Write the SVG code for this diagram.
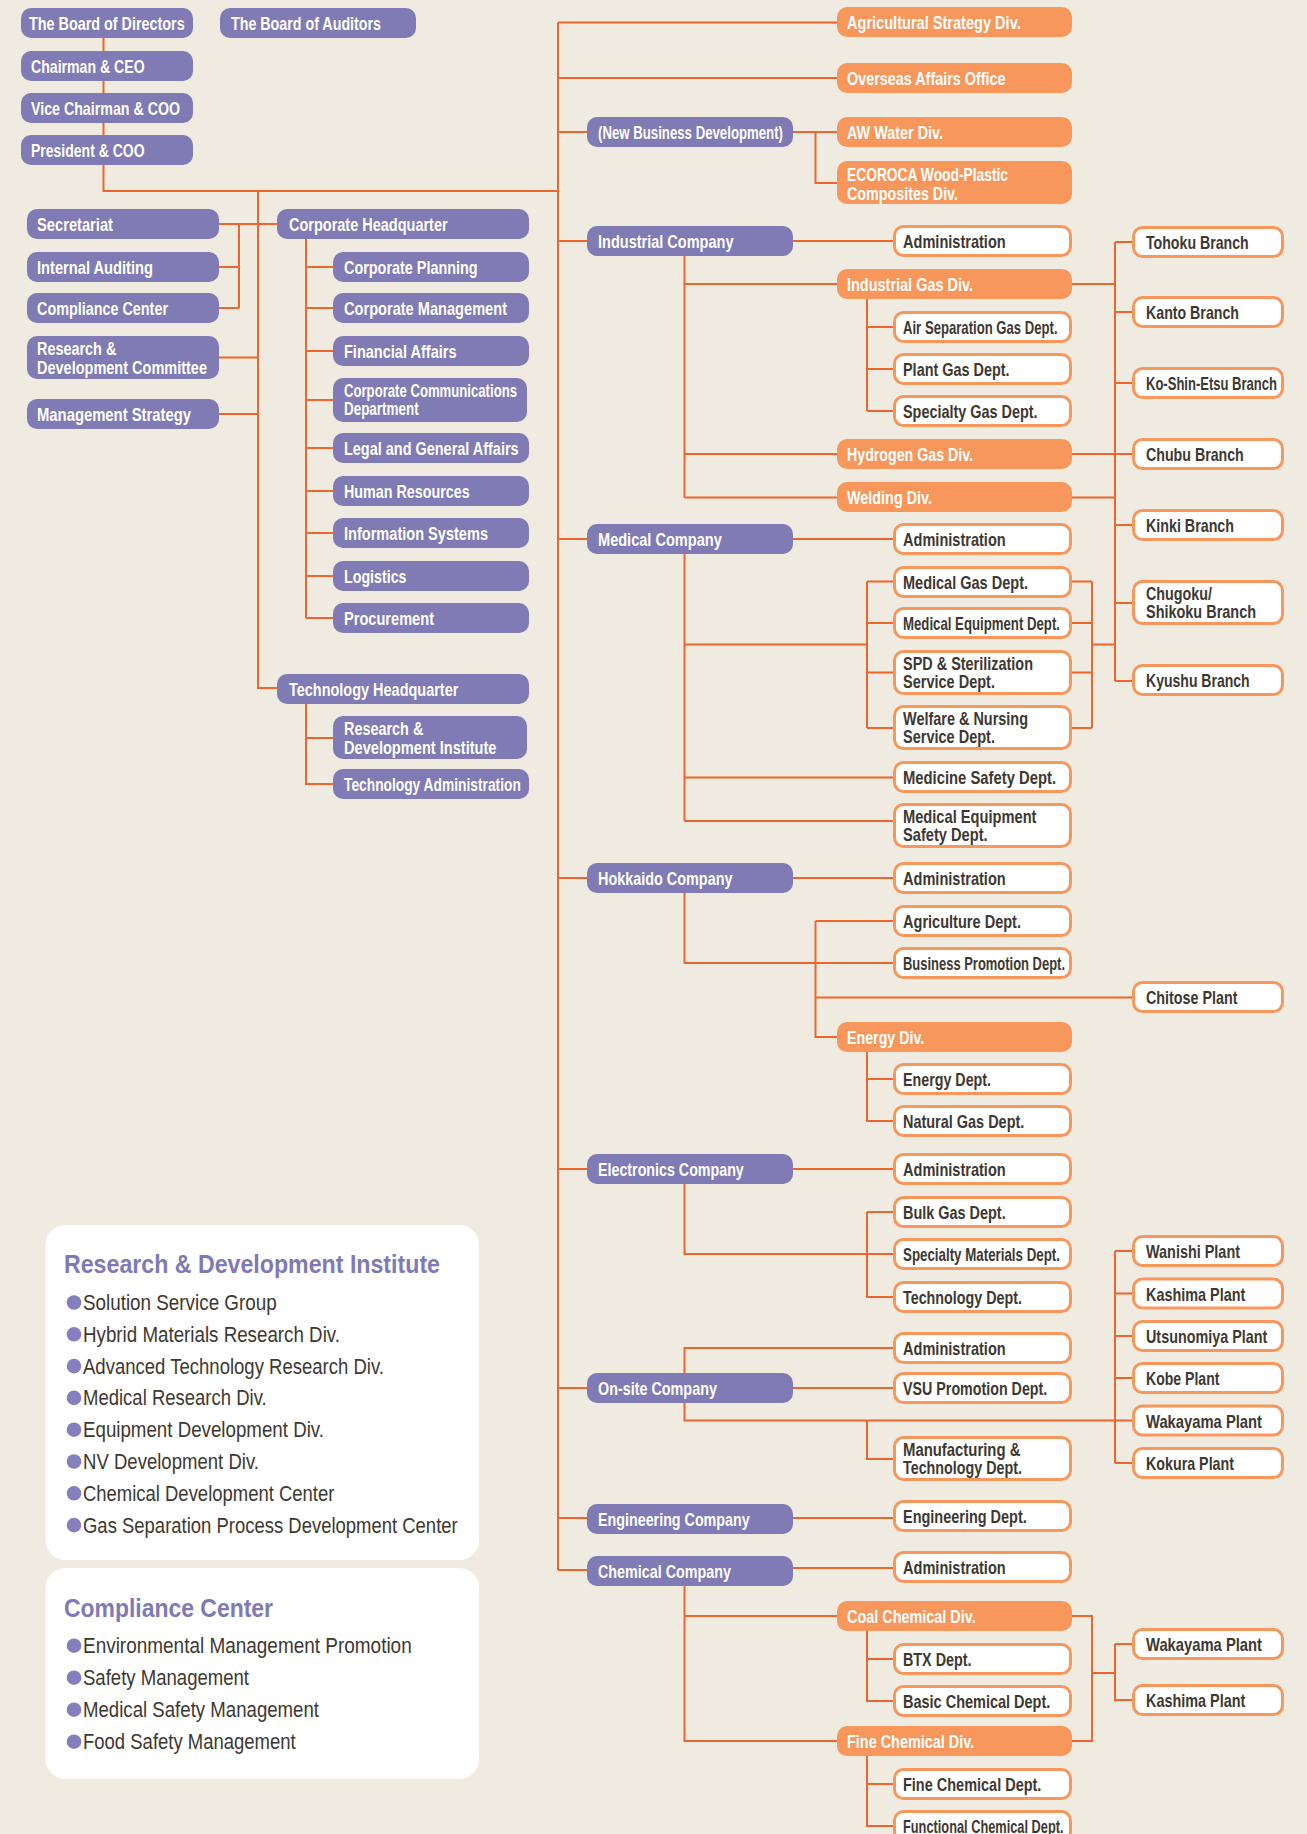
<svg xmlns="http://www.w3.org/2000/svg" width="1307" height="1834" viewBox="0 0 1307 1834">
<style>
  .p { fill: #807bb5; }
  .o { fill: #f7975c; }
  .w { fill: #ffffff; stroke: #f7975c; stroke-width: 3; }
  .panel { fill: #ffffff; }
  text { font-family: "Liberation Sans", Arial, sans-serif; }
  /* box labels: bold face, squeezed to a condensed width through textLength */
  .tl, .td { font-size: 19px; font-weight: bold; }
  .tl { fill: #ffffff; }
  .td { fill: #3d3832; }
  .ht { font-size: 26px; font-weight: bold; fill: #7f7ab5; }
  .it { font-size: 22.5px; fill: #3d3832; }
  .dot { fill: #8580bd; }
  .ln { fill: none; stroke: #f0652d; stroke-width: 2; }
</style>
<rect x="0" y="0" width="1307" height="1834" fill="#efebe1"/>

<g id="connectors" class="ln">
  <path d="M103.5 38 V191 H558 M258 191 V688 H277 M219 224 H277 M239 224 V308 M219 267 H239 M219 308 H239 M219 357.5 H258 M219 414 H258"/>
  <path d="M306 239 V618 M306 267 H333 M306 308 H333 M306 351 H333 M306 400 H333 M306 448 H333 M306 491 H333 M306 533 H333 M306 576 H333 M306 618 H333 M306 704 V784 H333 M306 738 H333"/>
  <path d="M558 22.5 V1570 M558 22.5 H837 M558 78 H837 M558 132 H587 M793 132 H837 M815.5 132 V183 H837"/>
  <path d="M558 241 H587 M793 241 H893 M684.5 256 V497.5 M684.5 284 H837 M684.5 454 H837 M684.5 497.5 H837 M867 299 V411 M867 327 H893 M867 369 H893 M867 411 H893"/>
  <path d="M1072 284 H1115 M1072 454 H1132 M1072 497.5 H1115 M1115 242 V681 M1115 242 H1132 M1115 312 H1132 M1115 383 H1132 M1115 525 H1132 M1115 603 H1132 M1115 681 H1132"/>
  <path d="M558 539 H587 M793 539 H893 M684.5 554 V821 M684.5 644.5 H867 M684.5 777.5 H893 M684.5 821 H893 M867 581.5 V728 M867 581.5 H893 M867 623 H893 M867 672.5 H893 M867 728 H893 M1072 581.5 H1092 M1072 623 H1092 M1072 672.5 H1092 M1072 728 H1092 M1092 581.5 V728 M1092 644.5 H1115"/>
  <path d="M558 878 H587 M793 878 H893 M684.5 893 V963 H893 M815.5 921 V1037 H837 M815.5 921 H893 M815.5 997.5 H1132 M867 1052 V1121 H893 M867 1079 H893"/>
  <path d="M558 1169 H587 M793 1169 H893 M684.5 1184 V1254 H893 M867 1212 V1297 H893 M867 1212 H893 M1115 1251 V1463 M1115 1251 H1132 M1115 1293.5 H1132 M1115 1336 H1132 M1115 1378 H1132 M1115 1463 H1132"/>
  <path d="M558 1388 H587 M793 1388 H893 M684.5 1373 V1348 H893 M684.5 1403 V1420.5 H1132 M867 1420.5 V1459 H893"/>
  <path d="M558 1518 H587 M793 1518 H893 M558 1570 H587 M793 1568 H893 M684.5 1586 V1741 H837 M684.5 1616 H837 M867 1631 V1701 H893 M867 1659 H893 M867 1756 V1826 H893 M867 1784 H893 M1072 1616 H1092 V1741 H1072 M1092 1673 H1115 M1115 1644 V1700 H1132 M1115 1644 H1132"/>
</g>

<!-- top management -->
<g id="board-directors"><rect class="p" x="21" y="8" width="172" height="30" rx="10"/><text class="tl" x="29" y="30" textLength="155.7" lengthAdjust="spacingAndGlyphs">The Board of Directors</text></g>
<g id="board-auditors"><rect class="p" x="220" y="8" width="196" height="30" rx="10"/><text class="tl" x="231" y="30" textLength="150" lengthAdjust="spacingAndGlyphs">The Board of Auditors</text></g>
<g id="chairman"><rect class="p" x="21" y="51" width="172" height="30" rx="10"/><text class="tl" x="31" y="73" textLength="113.6" lengthAdjust="spacingAndGlyphs">Chairman &amp; CEO</text></g>
<g id="vice-chairman"><rect class="p" x="21" y="93" width="172" height="30" rx="10"/><text class="tl" x="31" y="115" textLength="149" lengthAdjust="spacingAndGlyphs">Vice Chairman &amp; COO</text></g>
<g id="president"><rect class="p" x="21" y="135" width="172" height="30" rx="10"/><text class="tl" x="31" y="157" textLength="113.6" lengthAdjust="spacingAndGlyphs">President &amp; COO</text></g>

<!-- staff offices -->
<g id="secretariat"><rect class="p" x="27" y="209" width="192" height="30" rx="10"/><text class="tl" x="37" y="231" textLength="76" lengthAdjust="spacingAndGlyphs">Secretariat</text></g>
<g id="internal-auditing"><rect class="p" x="27" y="252" width="192" height="30" rx="10"/><text class="tl" x="37" y="274" textLength="116" lengthAdjust="spacingAndGlyphs">Internal Auditing</text></g>
<g id="compliance-center"><rect class="p" x="27" y="293" width="192" height="30" rx="10"/><text class="tl" x="37" y="315" textLength="131" lengthAdjust="spacingAndGlyphs">Compliance Center</text></g>
<g id="rd-committee"><rect class="p" x="27" y="336" width="192" height="43" rx="10"/><text class="tl" x="37" y="355" textLength="79.3" lengthAdjust="spacingAndGlyphs">Research &amp;</text><text class="tl" x="37" y="374" textLength="170" lengthAdjust="spacingAndGlyphs">Development Committee</text></g>
<g id="management-strategy"><rect class="p" x="27" y="399" width="192" height="30" rx="10"/><text class="tl" x="37" y="421" textLength="154" lengthAdjust="spacingAndGlyphs">Management Strategy</text></g>

<!-- corporate headquarter -->
<g id="corporate-hq"><rect class="p" x="277" y="209" width="252" height="30" rx="10"/><text class="tl" x="289" y="231" textLength="158.6" lengthAdjust="spacingAndGlyphs">Corporate Headquarter</text></g>
<g id="corporate-planning"><rect class="p" x="333" y="252" width="196" height="30" rx="10"/><text class="tl" x="344" y="274" textLength="133.6" lengthAdjust="spacingAndGlyphs">Corporate Planning</text></g>
<g id="corporate-management"><rect class="p" x="333" y="293" width="196" height="30" rx="10"/><text class="tl" x="344" y="315" textLength="163" lengthAdjust="spacingAndGlyphs">Corporate Management</text></g>
<g id="financial-affairs"><rect class="p" x="333" y="336" width="196" height="30" rx="10"/><text class="tl" x="344" y="358" textLength="112.5" lengthAdjust="spacingAndGlyphs">Financial Affairs</text></g>
<g id="corporate-communications"><rect class="p" x="333" y="378" width="194" height="44" rx="10"/><text class="tl" x="344" y="396.5" textLength="173" lengthAdjust="spacingAndGlyphs">Corporate Communications</text><text class="tl" x="344" y="415" textLength="74.6" lengthAdjust="spacingAndGlyphs">Department</text></g>
<g id="legal-general"><rect class="p" x="333" y="433" width="196" height="30" rx="10"/><text class="tl" x="344" y="455" textLength="174.6" lengthAdjust="spacingAndGlyphs">Legal and General Affairs</text></g>
<g id="human-resources"><rect class="p" x="333" y="476" width="196" height="30" rx="10"/><text class="tl" x="344" y="498" textLength="125.7" lengthAdjust="spacingAndGlyphs">Human Resources</text></g>
<g id="information-systems"><rect class="p" x="333" y="518" width="196" height="30" rx="10"/><text class="tl" x="344" y="540" textLength="144" lengthAdjust="spacingAndGlyphs">Information Systems</text></g>
<g id="logistics"><rect class="p" x="333" y="561" width="196" height="30" rx="10"/><text class="tl" x="344" y="583" textLength="62.5" lengthAdjust="spacingAndGlyphs">Logistics</text></g>
<g id="procurement"><rect class="p" x="333" y="603" width="196" height="30" rx="10"/><text class="tl" x="344" y="625" textLength="90" lengthAdjust="spacingAndGlyphs">Procurement</text></g>

<!-- technology headquarter -->
<g id="technology-hq"><rect class="p" x="277" y="674" width="252" height="30" rx="10"/><text class="tl" x="289" y="696" textLength="169.3" lengthAdjust="spacingAndGlyphs">Technology Headquarter</text></g>
<g id="rd-institute"><rect class="p" x="333" y="716" width="194" height="43" rx="10"/><text class="tl" x="344" y="735" textLength="79.3" lengthAdjust="spacingAndGlyphs">Research &amp;</text><text class="tl" x="344" y="754" textLength="152.5" lengthAdjust="spacingAndGlyphs">Development Institute</text></g>
<g id="technology-admin"><rect class="p" x="333" y="769" width="196" height="30" rx="10"/><text class="tl" x="344" y="791" textLength="176.8" lengthAdjust="spacingAndGlyphs">Technology Administration</text></g>

<!-- divisions reporting directly -->
<g id="agri-strategy"><rect class="o" x="837" y="7" width="235" height="30" rx="10"/><text class="tl" x="847" y="29" textLength="173.7" lengthAdjust="spacingAndGlyphs">Agricultural Strategy Div.</text></g>
<g id="overseas-affairs"><rect class="o" x="837" y="63" width="235" height="30" rx="10"/><text class="tl" x="847" y="85" textLength="158.5" lengthAdjust="spacingAndGlyphs">Overseas Affairs Office</text></g>
<g id="new-business"><rect class="p" x="587" y="117" width="206" height="30" rx="10"/><text class="tl" x="598" y="139" textLength="185" lengthAdjust="spacingAndGlyphs">(New Business Development)</text></g>
<g id="aw-water"><rect class="o" x="837" y="117" width="235" height="30" rx="10"/><text class="tl" x="847" y="139" textLength="96" lengthAdjust="spacingAndGlyphs">AW Water Div.</text></g>
<g id="ecoroca"><rect class="o" x="837" y="161" width="235" height="43" rx="10"/><text class="tl" x="847" y="181" textLength="161" lengthAdjust="spacingAndGlyphs">ECOROCA Wood-Plastic</text><text class="tl" x="847" y="199.5" textLength="111" lengthAdjust="spacingAndGlyphs">Composites Div.</text></g>

<!-- industrial company -->
<g id="industrial-co"><rect class="p" x="587" y="226" width="206" height="30" rx="10"/><text class="tl" x="598" y="248" textLength="135.5" lengthAdjust="spacingAndGlyphs">Industrial Company</text></g>
<g id="ind-admin"><rect class="w" x="894.5" y="226.5" width="176" height="29" rx="9"/><text class="td" x="903" y="248" textLength="102.7" lengthAdjust="spacingAndGlyphs">Administration</text></g>
<g id="industrial-gas"><rect class="o" x="837" y="269" width="235" height="30" rx="10"/><text class="tl" x="847" y="291" textLength="126" lengthAdjust="spacingAndGlyphs">Industrial Gas Div.</text></g>
<g id="air-separation"><rect class="w" x="894.5" y="312.5" width="176" height="29" rx="9"/><text class="td" x="903" y="334" textLength="154.6" lengthAdjust="spacingAndGlyphs">Air Separation Gas Dept.</text></g>
<g id="plant-gas"><rect class="w" x="894.5" y="354.5" width="176" height="29" rx="9"/><text class="td" x="903" y="376" textLength="106.6" lengthAdjust="spacingAndGlyphs">Plant Gas Dept.</text></g>
<g id="specialty-gas"><rect class="w" x="894.5" y="396.5" width="176" height="29" rx="9"/><text class="td" x="903" y="418" textLength="134.5" lengthAdjust="spacingAndGlyphs">Specialty Gas Dept.</text></g>
<g id="hydrogen-gas"><rect class="o" x="837" y="439" width="235" height="30" rx="10"/><text class="tl" x="847" y="461" textLength="126" lengthAdjust="spacingAndGlyphs">Hydrogen Gas Div.</text></g>
<g id="welding"><rect class="o" x="837" y="482" width="235" height="30" rx="10"/><text class="tl" x="847" y="504" textLength="85" lengthAdjust="spacingAndGlyphs">Welding Div.</text></g>

<!-- branches -->
<g id="tohoku"><rect class="w" x="1133.5" y="227.5" width="149" height="29" rx="9"/><text class="td" x="1146" y="249" textLength="102.7" lengthAdjust="spacingAndGlyphs">Tohoku Branch</text></g>
<g id="kanto"><rect class="w" x="1133.5" y="297.5" width="149" height="29" rx="9"/><text class="td" x="1146" y="319" textLength="93" lengthAdjust="spacingAndGlyphs">Kanto Branch</text></g>
<g id="koshinetsu"><rect class="w" x="1133.5" y="368.5" width="149" height="29" rx="9"/><text class="td" x="1146" y="390" textLength="131" lengthAdjust="spacingAndGlyphs">Ko-Shin-Etsu Branch</text></g>
<g id="chubu"><rect class="w" x="1133.5" y="439.5" width="149" height="29" rx="9"/><text class="td" x="1146" y="461" textLength="97.8" lengthAdjust="spacingAndGlyphs">Chubu Branch</text></g>
<g id="kinki"><rect class="w" x="1133.5" y="510.5" width="149" height="29" rx="9"/><text class="td" x="1146" y="532" textLength="88" lengthAdjust="spacingAndGlyphs">Kinki Branch</text></g>
<g id="chugoku-shikoku"><rect class="w" x="1133.5" y="581.5" width="149" height="42" rx="9"/><text class="td" x="1146" y="600" textLength="66" lengthAdjust="spacingAndGlyphs">Chugoku/</text><text class="td" x="1146" y="618" textLength="110" lengthAdjust="spacingAndGlyphs">Shikoku Branch</text></g>
<g id="kyushu"><rect class="w" x="1133.5" y="665.5" width="149" height="29" rx="9"/><text class="td" x="1146" y="687" textLength="103.7" lengthAdjust="spacingAndGlyphs">Kyushu Branch</text></g>

<!-- medical company -->
<g id="medical-co"><rect class="p" x="587" y="524" width="206" height="30" rx="10"/><text class="tl" x="598" y="546" textLength="123.8" lengthAdjust="spacingAndGlyphs">Medical Company</text></g>
<g id="med-admin"><rect class="w" x="894.5" y="524.5" width="176" height="29" rx="9"/><text class="td" x="903" y="546" textLength="102.7" lengthAdjust="spacingAndGlyphs">Administration</text></g>
<g id="medical-gas"><rect class="w" x="894.5" y="567.5" width="176" height="29" rx="9"/><text class="td" x="903" y="589" textLength="125" lengthAdjust="spacingAndGlyphs">Medical Gas Dept.</text></g>
<g id="medical-equipment"><rect class="w" x="894.5" y="608.5" width="176" height="29" rx="9"/><text class="td" x="903" y="630" textLength="157" lengthAdjust="spacingAndGlyphs">Medical Equipment Dept.</text></g>
<g id="spd-sterilization"><rect class="w" x="894.5" y="651.5" width="176" height="42" rx="9"/><text class="td" x="903" y="669.5" textLength="130" lengthAdjust="spacingAndGlyphs">SPD &amp; Sterilization</text><text class="td" x="903" y="687.5" textLength="92" lengthAdjust="spacingAndGlyphs">Service Dept.</text></g>
<g id="welfare-nursing"><rect class="w" x="894.5" y="706.5" width="176" height="42" rx="9"/><text class="td" x="903" y="724.5" textLength="125" lengthAdjust="spacingAndGlyphs">Welfare &amp; Nursing</text><text class="td" x="903" y="742.5" textLength="92" lengthAdjust="spacingAndGlyphs">Service Dept.</text></g>
<g id="medicine-safety"><rect class="w" x="894.5" y="762.5" width="176" height="29" rx="9"/><text class="td" x="903" y="784" textLength="153" lengthAdjust="spacingAndGlyphs">Medicine Safety Dept.</text></g>
<g id="med-equipment-safety"><rect class="w" x="894.5" y="804.5" width="176" height="42" rx="9"/><text class="td" x="903" y="822.5" textLength="133.5" lengthAdjust="spacingAndGlyphs">Medical Equipment</text><text class="td" x="903" y="840.5" textLength="84.6" lengthAdjust="spacingAndGlyphs">Safety Dept.</text></g>

<!-- hokkaido company -->
<g id="hokkaido-co"><rect class="p" x="587" y="863" width="206" height="30" rx="10"/><text class="tl" x="598" y="885" textLength="134.5" lengthAdjust="spacingAndGlyphs">Hokkaido Company</text></g>
<g id="hok-admin"><rect class="w" x="894.5" y="863.5" width="176" height="29" rx="9"/><text class="td" x="903" y="885" textLength="102.7" lengthAdjust="spacingAndGlyphs">Administration</text></g>
<g id="agriculture"><rect class="w" x="894.5" y="906.5" width="176" height="29" rx="9"/><text class="td" x="903" y="928" textLength="118" lengthAdjust="spacingAndGlyphs">Agriculture Dept.</text></g>
<g id="business-promotion"><rect class="w" x="894.5" y="948.5" width="176" height="29" rx="9"/><text class="td" x="903" y="970" textLength="162" lengthAdjust="spacingAndGlyphs">Business Promotion Dept.</text></g>
<g id="chitose"><rect class="w" x="1133.5" y="982.5" width="149" height="29" rx="9"/><text class="td" x="1146" y="1004" textLength="91.5" lengthAdjust="spacingAndGlyphs">Chitose Plant</text></g>
<g id="energy-div"><rect class="o" x="837" y="1022" width="235" height="30" rx="10"/><text class="tl" x="847" y="1044" textLength="77.3" lengthAdjust="spacingAndGlyphs">Energy Div.</text></g>
<g id="energy-dept"><rect class="w" x="894.5" y="1064.5" width="176" height="29" rx="9"/><text class="td" x="903" y="1086" textLength="88" lengthAdjust="spacingAndGlyphs">Energy Dept.</text></g>
<g id="natural-gas"><rect class="w" x="894.5" y="1106.5" width="176" height="29" rx="9"/><text class="td" x="903" y="1128" textLength="121.3" lengthAdjust="spacingAndGlyphs">Natural Gas Dept.</text></g>

<!-- electronics company -->
<g id="electronics-co"><rect class="p" x="587" y="1154" width="206" height="30" rx="10"/><text class="tl" x="598" y="1176" textLength="145.8" lengthAdjust="spacingAndGlyphs">Electronics Company</text></g>
<g id="elec-admin"><rect class="w" x="894.5" y="1154.5" width="176" height="29" rx="9"/><text class="td" x="903" y="1176" textLength="102.7" lengthAdjust="spacingAndGlyphs">Administration</text></g>
<g id="bulk-gas"><rect class="w" x="894.5" y="1197.5" width="176" height="29" rx="9"/><text class="td" x="903" y="1219" textLength="102.7" lengthAdjust="spacingAndGlyphs">Bulk Gas Dept.</text></g>
<g id="specialty-materials"><rect class="w" x="894.5" y="1239.5" width="176" height="29" rx="9"/><text class="td" x="903" y="1261" textLength="157" lengthAdjust="spacingAndGlyphs">Specialty Materials Dept.</text></g>
<g id="technology-dept"><rect class="w" x="894.5" y="1282.5" width="176" height="29" rx="9"/><text class="td" x="903" y="1304" textLength="118.9" lengthAdjust="spacingAndGlyphs">Technology Dept.</text></g>

<!-- plants -->
<g id="wanishi"><rect class="w" x="1133.5" y="1236.5" width="149" height="29" rx="9"/><text class="td" x="1146" y="1258" textLength="94" lengthAdjust="spacingAndGlyphs">Wanishi Plant</text></g>
<g id="kashima"><rect class="w" x="1133.5" y="1279" width="149" height="29" rx="9"/><text class="td" x="1146" y="1300.5" textLength="99.3" lengthAdjust="spacingAndGlyphs">Kashima Plant</text></g>
<g id="utsunomiya"><rect class="w" x="1133.5" y="1321.5" width="149" height="29" rx="9"/><text class="td" x="1146" y="1343" textLength="121.3" lengthAdjust="spacingAndGlyphs">Utsunomiya Plant</text></g>
<g id="kobe"><rect class="w" x="1133.5" y="1363.5" width="149" height="29" rx="9"/><text class="td" x="1146" y="1385" textLength="73.4" lengthAdjust="spacingAndGlyphs">Kobe Plant</text></g>
<g id="wakayama"><rect class="w" x="1133.5" y="1406" width="149" height="29" rx="9"/><text class="td" x="1146" y="1427.5" textLength="116" lengthAdjust="spacingAndGlyphs">Wakayama Plant</text></g>
<g id="kokura"><rect class="w" x="1133.5" y="1448.5" width="149" height="29" rx="9"/><text class="td" x="1146" y="1470" textLength="88" lengthAdjust="spacingAndGlyphs">Kokura Plant</text></g>

<!-- on-site company -->
<g id="onsite-co"><rect class="p" x="587" y="1373" width="206" height="30" rx="10"/><text class="tl" x="598" y="1395" textLength="118.9" lengthAdjust="spacingAndGlyphs">On-site Company</text></g>
<g id="onsite-admin"><rect class="w" x="894.5" y="1333.5" width="176" height="29" rx="9"/><text class="td" x="903" y="1355" textLength="102.7" lengthAdjust="spacingAndGlyphs">Administration</text></g>
<g id="vsu-promotion"><rect class="w" x="894.5" y="1373.5" width="176" height="29" rx="9"/><text class="td" x="903" y="1395" textLength="144.3" lengthAdjust="spacingAndGlyphs">VSU Promotion Dept.</text></g>
<g id="manufacturing-tech"><rect class="w" x="894.5" y="1437.5" width="176" height="42" rx="9"/><text class="td" x="903" y="1455.5" textLength="117.4" lengthAdjust="spacingAndGlyphs">Manufacturing &amp;</text><text class="td" x="903" y="1473.5" textLength="118.9" lengthAdjust="spacingAndGlyphs">Technology Dept.</text></g>

<!-- engineering company -->
<g id="engineering-co"><rect class="p" x="587" y="1504" width="206" height="30" rx="10"/><text class="tl" x="598" y="1526" textLength="151.7" lengthAdjust="spacingAndGlyphs">Engineering Company</text></g>
<g id="engineering-dept"><rect class="w" x="894.5" y="1501.5" width="176" height="29" rx="9"/><text class="td" x="903" y="1523" textLength="123.8" lengthAdjust="spacingAndGlyphs">Engineering Dept.</text></g>

<!-- chemical company -->
<g id="chemical-co"><rect class="p" x="587" y="1556" width="206" height="30" rx="10"/><text class="tl" x="598" y="1578" textLength="133" lengthAdjust="spacingAndGlyphs">Chemical Company</text></g>
<g id="chem-admin"><rect class="w" x="894.5" y="1552.5" width="176" height="29" rx="9"/><text class="td" x="903" y="1574" textLength="102.7" lengthAdjust="spacingAndGlyphs">Administration</text></g>
<g id="coal-chemical"><rect class="o" x="837" y="1601" width="235" height="30" rx="10"/><text class="tl" x="847" y="1623" textLength="128.7" lengthAdjust="spacingAndGlyphs">Coal Chemical Div.</text></g>
<g id="btx"><rect class="w" x="894.5" y="1644.5" width="176" height="29" rx="9"/><text class="td" x="903" y="1666" textLength="68.5" lengthAdjust="spacingAndGlyphs">BTX Dept.</text></g>
<g id="basic-chemical"><rect class="w" x="894.5" y="1686.5" width="176" height="29" rx="9"/><text class="td" x="903" y="1708" textLength="147.3" lengthAdjust="spacingAndGlyphs">Basic Chemical Dept.</text></g>
<g id="fine-chemical-div"><rect class="o" x="837" y="1726" width="235" height="30" rx="10"/><text class="tl" x="847" y="1748" textLength="127.2" lengthAdjust="spacingAndGlyphs">Fine Chemical Div.</text></g>
<g id="fine-chemical-dept"><rect class="w" x="894.5" y="1769.5" width="176" height="29" rx="9"/><text class="td" x="903" y="1791" textLength="138.4" lengthAdjust="spacingAndGlyphs">Fine Chemical Dept.</text></g>
<g id="functional-chemical"><rect class="w" x="894.5" y="1811.5" width="176" height="29" rx="9"/><text class="td" x="903" y="1833" textLength="160.5" lengthAdjust="spacingAndGlyphs">Functional Chemical Dept.</text></g>
<g id="chem-wakayama"><rect class="w" x="1133.5" y="1629.5" width="149" height="29" rx="9"/><text class="td" x="1146" y="1651" textLength="116" lengthAdjust="spacingAndGlyphs">Wakayama Plant</text></g>
<g id="chem-kashima"><rect class="w" x="1133.5" y="1685.5" width="149" height="29" rx="9"/><text class="td" x="1146" y="1707" textLength="99.3" lengthAdjust="spacingAndGlyphs">Kashima Plant</text></g>

<!-- explanatory panels -->
<g id="rd-institute-panel">
  <rect class="panel" x="45.5" y="1225" width="433.5" height="335" rx="20"/>
  <text class="ht" x="64" y="1273" textLength="376" lengthAdjust="spacingAndGlyphs">Research &amp; Development Institute</text>
  <circle class="dot" cx="74" cy="1302.5" r="7.3"/><text class="it" x="83" y="1310" textLength="193.7" lengthAdjust="spacingAndGlyphs">Solution Service Group</text>
  <circle class="dot" cx="74" cy="1334.3" r="7.3"/><text class="it" x="83" y="1341.8" textLength="257" lengthAdjust="spacingAndGlyphs">Hybrid Materials Research Div.</text>
  <circle class="dot" cx="74" cy="1366.1" r="7.3"/><text class="it" x="83" y="1373.6" textLength="301" lengthAdjust="spacingAndGlyphs">Advanced Technology Research Div.</text>
  <circle class="dot" cx="74" cy="1397.9" r="7.3"/><text class="it" x="83" y="1405.4" textLength="183.7" lengthAdjust="spacingAndGlyphs">Medical Research Div.</text>
  <circle class="dot" cx="74" cy="1429.7" r="7.3"/><text class="it" x="83" y="1437.2" textLength="241" lengthAdjust="spacingAndGlyphs">Equipment Development Div.</text>
  <circle class="dot" cx="74" cy="1461.5" r="7.3"/><text class="it" x="83" y="1469" textLength="176" lengthAdjust="spacingAndGlyphs">NV Development Div.</text>
  <circle class="dot" cx="74" cy="1493.3" r="7.3"/><text class="it" x="83" y="1500.8" textLength="251.3" lengthAdjust="spacingAndGlyphs">Chemical Development Center</text>
  <circle class="dot" cx="74" cy="1525.1" r="7.3"/><text class="it" x="83" y="1532.6" textLength="374.7" lengthAdjust="spacingAndGlyphs">Gas Separation Process Development Center</text>
</g>
<g id="compliance-panel">
  <rect class="panel" x="45.5" y="1568" width="433.5" height="211" rx="20"/>
  <text class="ht" x="64" y="1616.5" textLength="209" lengthAdjust="spacingAndGlyphs">Compliance Center</text>
  <circle class="dot" cx="74" cy="1645.7" r="7.3"/><text class="it" x="83" y="1653.2" textLength="328.7" lengthAdjust="spacingAndGlyphs">Environmental Management Promotion</text>
  <circle class="dot" cx="74" cy="1677.7" r="7.3"/><text class="it" x="83" y="1685.2" textLength="166" lengthAdjust="spacingAndGlyphs">Safety Management</text>
  <circle class="dot" cx="74" cy="1709.7" r="7.3"/><text class="it" x="83" y="1717.2" textLength="236" lengthAdjust="spacingAndGlyphs">Medical Safety Management</text>
  <circle class="dot" cx="74" cy="1741.7" r="7.3"/><text class="it" x="83" y="1749.2" textLength="212.7" lengthAdjust="spacingAndGlyphs">Food Safety Management</text>
</g>
</svg>
